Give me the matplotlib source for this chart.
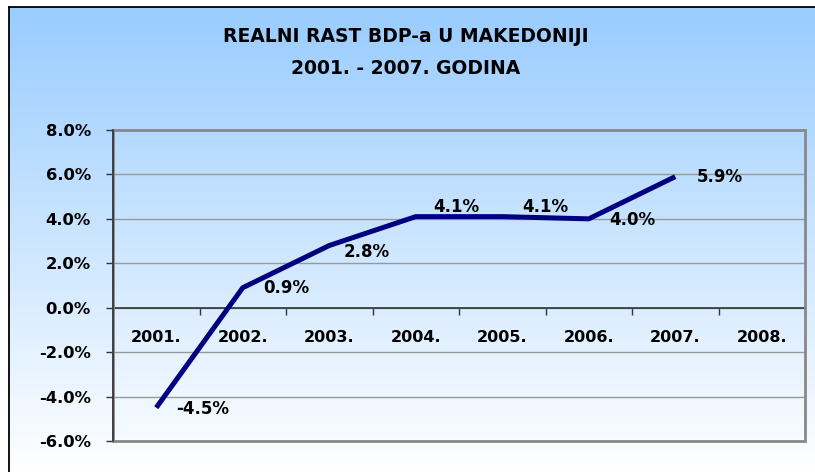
import numpy as np
import matplotlib.pyplot as plt
from matplotlib.patches import Rectangle

# Podaci
years = ['2001.', '2002.', '2003.', '2004.', '2005.', '2006.', '2007.', '2008.']
growth = [-4.5, 0.9, 2.8, 4.1, 4.1, 4.0, 5.9]
value_labels = ['-4.5%', '0.9%', '2.8%', '4.1%', '4.1%', '4.0%', '5.9%']
y_ticks = [-6, -4, -2, 0, 2, 4, 6, 8]
y_tick_labels = ['-6.0%', '-4.0%', '-2.0%', '0.0%', '2.0%', '4.0%', '6.0%', '8.0%']

# pomak natpisa od tocke (px, gore je pozitivno)
label_offsets = [(20, -1), (20, 0), (14, -6), (17, 10), (20, 10), (20, -1), (21, 0)]

W, H = 815, 472
fig = plt.figure(figsize=(W / 100, H / 100), dpi=100)

# pozadina s gradijentom
bg = fig.add_axes([0, 0, 1, 1], zorder=-1)
bg.set_xlim(0, W)
bg.set_ylim(H, 0)
bg.axis('off')
top = np.array([153, 204, 255]) / 255
bot = np.array([255, 255, 255]) / 255
t = np.linspace(0, 1, 256)[:, None]
grad = top + (bot - top) * t
bg.imshow(grad[:, None, :], extent=(9, W, H, 7), aspect='auto')
bg.plot([9, W], [7, 7], color='black', lw=1.3)
bg.plot([9, 9], [7, H], color='black', lw=1.3)

# naslov
fig.text(406 / W, 1 - 37 / H, 'REALNI RAST BDP-a U MAKEDONIJI', ha='center', va='center',
         fontsize=13.5, fontweight='bold')
fig.text(406 / W, 1 - 68 / H, '2001. - 2007. GODINA', ha='center', va='center',
         fontsize=13.5, fontweight='bold')

ax = fig.add_axes([113 / W, 31 / H, 692 / W, 311 / H])
ax.patch.set_alpha(0)

ax.spines['top'].set_visible(False)
ax.spines['right'].set_visible(False)
ax.spines['bottom'].set_position(('data', 0))
ax.spines['bottom'].set_color('#333333')
ax.spines['bottom'].set_linewidth(1.2)
ax.spines['left'].set_color('#333333')
ax.spines['left'].set_linewidth(1.2)
ax.spines['left'].set_zorder(5)

x = np.arange(len(growth))
ax.set_xlim(-0.5, len(years) - 0.5)
ax.set_ylim(-6, 8)

ax.set_yticks(y_ticks)
ax.set_yticklabels(y_tick_labels, fontsize=11.8, fontweight='bold')
ax.yaxis.grid(True, color='#999999', lw=1)
ax.set_axisbelow(True)
ax.tick_params(axis='y', direction='out', length=5, width=1, color='#333333', pad=11)

ax.set_xticks(np.arange(len(years)))
ax.set_xticks(np.arange(len(years) + 1) - 0.5, minor=True)
ax.set_xticklabels(years, fontsize=11.5, fontweight='bold')
ax.tick_params(axis='x', which='major', length=0, pad=16)
ax.tick_params(axis='x', which='minor', direction='out', length=5, width=1, color='#333333')

ax.add_patch(Rectangle((0, 0), 1, 1, transform=ax.transAxes, fill=False,
                       edgecolor='#888888', lw=2, zorder=4, clip_on=False))

ax.plot(x, growth, color='#000080', lw=3.6, solid_capstyle='butt',
        solid_joinstyle='round', zorder=6)

for i, (v, lbl) in enumerate(zip(growth, value_labels)):
    dx, dy = label_offsets[i]
    ax.annotate(lbl, (i, v), xytext=(dx * 0.72, dy * 0.72), textcoords='offset points',
                ha='left', va='center', fontsize=12, fontweight='bold', zorder=7)

plt.savefig('out.png', dpi=100)
